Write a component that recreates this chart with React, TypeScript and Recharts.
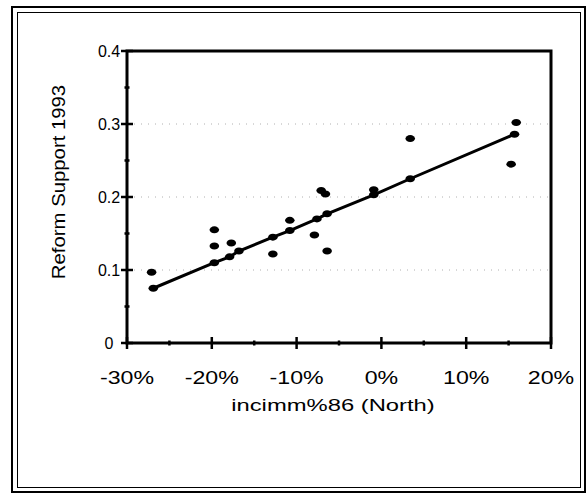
import React from 'react';
import { ScatterChart, Scatter, XAxis, YAxis, ReferenceLine, ReferenceArea } from 'recharts';

// observed points: immigration change (North, %) vs reform support in 1993
const incimmNorth = [-27.1, -19.7, -19.7, -17.7, -12.8, -10.8, -7.9, -7.1, -6.6, -6.4, -0.9, 3.4, 15.3, 15.9];
const reformSupport = [0.097, 0.155, 0.133, 0.137, 0.122, 0.168, 0.148, 0.209, 0.204, 0.126, 0.21, 0.28, 0.245, 0.302];

// fitted values drawn as the trend line
const fitX = [-26.9, -19.7, -17.9, -16.8, -12.8, -10.8, -7.6, -6.4, -0.9, 3.4, 15.7];
const fitY = [0.075, 0.11, 0.118, 0.126, 0.145, 0.154, 0.17, 0.177, 0.203, 0.225, 0.286];

const xTicks = [-30, -25, -20, -15, -10, -5, 0, 5, 10, 15, 20];
const yTicks = [0, 0.05, 0.1, 0.15, 0.2, 0.25, 0.3, 0.35, 0.4];
const gridLevels = [0.1, 0.2, 0.3];

const observed = incimmNorth.map((x, i) => ({ x, y: reformSupport[i] }));
const fitted = fitX.map((x, i) => ({ x, y: fitY[i] }));

const font = '"Liberation Sans", Arial, sans-serif';

const Dot = (props: any) => (
  <ellipse cx={props.cx} cy={props.cy} rx={4.8} ry={3.5} fill="#000" />
);

const XTick = (props: any) => {
  const { x, y, payload } = props;
  const v = payload.value;
  const major = v % 10 === 0;
  const h = major ? 6 : 2.5;
  return (
    <g>
      <path d={`M${x},${y - h}L${x},${y + h}`} stroke="#000" strokeOpacity={1} strokeWidth={2.5} fill="none" />
      {major && (
        <g transform={`translate(${x},${y + 41}) scale(1.22,1)`}>
          <text x={0} y={0} textAnchor="middle" fontSize={19} fontFamily={font} fill="#000">
            {`${v}%`}
          </text>
        </g>
      )}
    </g>
  );
};

const YTick = (props: any) => {
  const { x, y, payload } = props;
  const v = payload.value;
  const major = Math.round(v * 100) % 10 === 0;
  const h = major ? 6 : 2.5;
  return (
    <g>
      <path d={`M${x - h},${y}L${x + h},${y}`} stroke="#000" strokeOpacity={1} strokeWidth={2.5} fill="none" />
      {major && (
        <text x={x - 18} y={y + 6} textAnchor="middle" fontSize={16} fontFamily={font} fill="#000">
          {v === 0 ? '0' : v.toFixed(1)}
        </text>
      )}
    </g>
  );
};

const XTitle = (props: any) => {
  const vb = props.viewBox;
  const cx = vb.x + vb.width / 2 - 6;
  return (
    <g transform={`translate(${cx},${vb.y + 68}) scale(1.4,1)`}>
      <text x={0} y={0} textAnchor="middle" fontSize={17} fontFamily={font} fill="#000">
        incimm%86 (North)
      </text>
    </g>
  );
};

const YTitle = (props: any) => {
  const vb = props.viewBox;
  return (
    <g transform={`translate(65,${vb.y + vb.height / 2 - 15}) rotate(-90) scale(1.13,1)`}>
      <text x={0} y={0} textAnchor="middle" fontSize={18} fontFamily={font} fill="#000">
        Reform Support 1993
      </text>
    </g>
  );
};

export default function App() {
  return (
    <div style={{ position: 'absolute', left: 0, top: 0, width: 587, height: 496, background: '#fff' }}>
      <div style={{ position: 'absolute', left: 11, top: 6, width: 571, height: 483, border: '2px solid #000' }} />
      <div style={{ position: 'absolute', left: 17, top: 12, width: 562, height: 474, border: '1.5px solid #000' }} />
      <div style={{ position: 'absolute', left: 0, top: 0 }}>
        <ScatterChart width={587} height={496} margin={{ top: 51, right: 36, bottom: 93, left: 67 }}>
          <XAxis
            type="number"
            dataKey="x"
            domain={[-30, 20]}
            ticks={xTicks}
            tick={<XTick />}
            tickSize={0}
            tickMargin={0}
            tickLine={false}
            height={60}
            axisLine={false}
            label={<XTitle />}
          />
          <YAxis
            type="number"
            dataKey="y"
            domain={[0, 0.4]}
            ticks={yTicks}
            tick={<YTick />}
            tickSize={0}
            tickMargin={0}
            tickLine={false}
            width={60}
            axisLine={false}
            label={<YTitle />}
          />
          {gridLevels.map((g) => (
            <ReferenceLine key={g} y={g} stroke="#b0b0b0" strokeDasharray="1 6" strokeWidth={1} />
          ))}
          <ReferenceArea
            x1={-30}
            x2={20}
            y1={0}
            y2={0.4}
            fill="none"
            fillOpacity={0}
            stroke="#000"
            strokeOpacity={1}
            strokeWidth={3}
            ifOverflow="visible"
          />
          <Scatter
            data={fitted}
            line={{ stroke: '#000', strokeWidth: 3 }}
            lineType="joint"
            shape={<Dot />}
            isAnimationActive={false}
          />
          <Scatter data={observed} shape={<Dot />} isAnimationActive={false} />
        </ScatterChart>
      </div>
    </div>
  );
}
